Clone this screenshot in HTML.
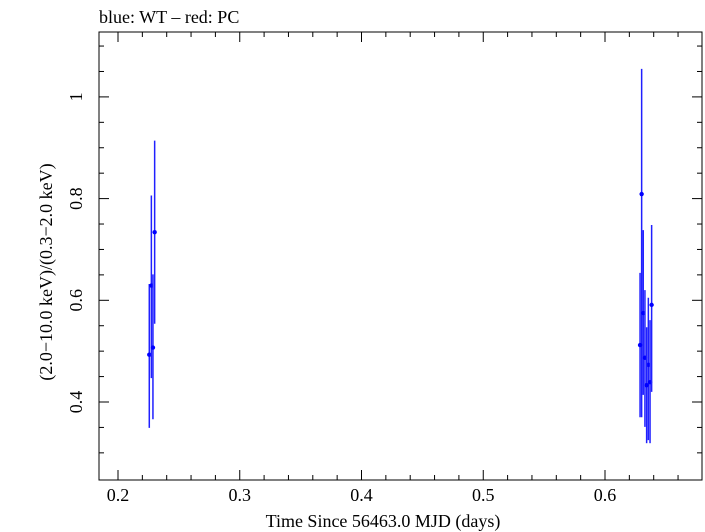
<!DOCTYPE html>
<html><head><meta charset="utf-8"><style>body{margin:0;background:#fff}svg{display:block}text{font-family:"Liberation Serif",serif;fill:#000}</style></head>
<body>
<svg id="c" width="705" height="532"></svg>
<script>
const xs=[0.2257,0.2274,0.2287,0.2301,0.6301,0.6288,0.6314,0.6328,0.6356,0.6342,0.6370,0.6383];
const ys=[0.493,0.629,0.507,0.734,0.809,0.512,0.575,0.487,0.473,0.433,0.439,0.591];
const yLo=[0.349,0.447,0.366,0.554,0.370,0.370,0.414,0.351,0.325,0.319,0.319,0.420];
const yHi=[0.632,0.806,0.651,0.914,1.055,0.654,0.738,0.620,0.605,0.547,0.561,0.748];
const xTicks=[0.2,0.3,0.4,0.5,0.6];
const yTicks=[0.4,0.6,0.8,1];
const xLabels=["0.2","0.3","0.4","0.5","0.6"];
const yLabels=["0.4","0.6","0.8","1"];
const L=99,R=702,T=32,B=480;
const X=v=>118+(v-0.2)*1217.5;
const Y=v=>402-(v-0.4)*508.5;
const s=document.getElementById('c');const NS='http://www.w3.org/2000/svg';
function el(t,a,p){const e=document.createElementNS(NS,t);for(const k in a)e.setAttribute(k,a[k]);(p||s).appendChild(e);return e;}
const frame=el('rect',{x:L,y:T,width:R-L,height:B-T,fill:'none',stroke:'#000','stroke-width':1});

const ax=el('g',{stroke:'#000','stroke-width':1});

for(let v=0.2;v<=0.68;v+=0.02){const px=X(v);const maj=Math.abs(v*10-Math.round(v*10))<1e-6;const len=maj?10:5;
el('line',{x1:px,y1:B,x2:px,y2:B-len},ax);el('line',{x1:px,y1:T,x2:px,y2:T+len},ax);}
for(let v=0.3;v<=1.15;v+=0.05){const py=Y(v);if(py<T||py>B)continue;const maj=Math.abs(v*5-Math.round(v*5))<1e-6;const len=maj?10:5;
el('line',{x1:L,y1:py,x2:L+len,y2:py},ax);el('line',{x1:R,y1:py,x2:R-len,y2:py},ax);}
xTicks.forEach((v,i)=>{const t=el('text',{x:X(v),y:501,'text-anchor':'middle','font-size':18});t.textContent=xLabels[i];
});
yTicks.forEach((v,i)=>{const t=el('text',{x:0,y:0,'text-anchor':'middle','font-size':18,transform:`translate(82,${Y(v)}) rotate(-90)`});t.textContent=yLabels[i];
});
const xt=el('text',{x:383,y:527,'text-anchor':'middle','font-size':18});xt.textContent='Time Since 56463.0 MJD (days)';

const yt=el('text',{x:0,y:0,'text-anchor':'middle','font-size':18,transform:'translate(52,272) rotate(-90)'});yt.textContent='(2.0\u221210.0 keV)/(0.3\u22122.0 keV)';

const tt=el('text',{x:99,y:23,'font-size':18});tt.textContent='blue: WT \u2013 red: PC';

const g=el('g',{});
xs.forEach((x,i)=>{const l=el('line',{x1:X(x),x2:X(x),y1:Y(yLo[i]),y2:Y(yHi[i]),stroke:'#2020ff','stroke-width':1.5},g);

const c=el('circle',{cx:X(x),cy:Y(ys[i]),r:2.2,fill:'#0000ff'},g);
});
</script>
</body></html>
